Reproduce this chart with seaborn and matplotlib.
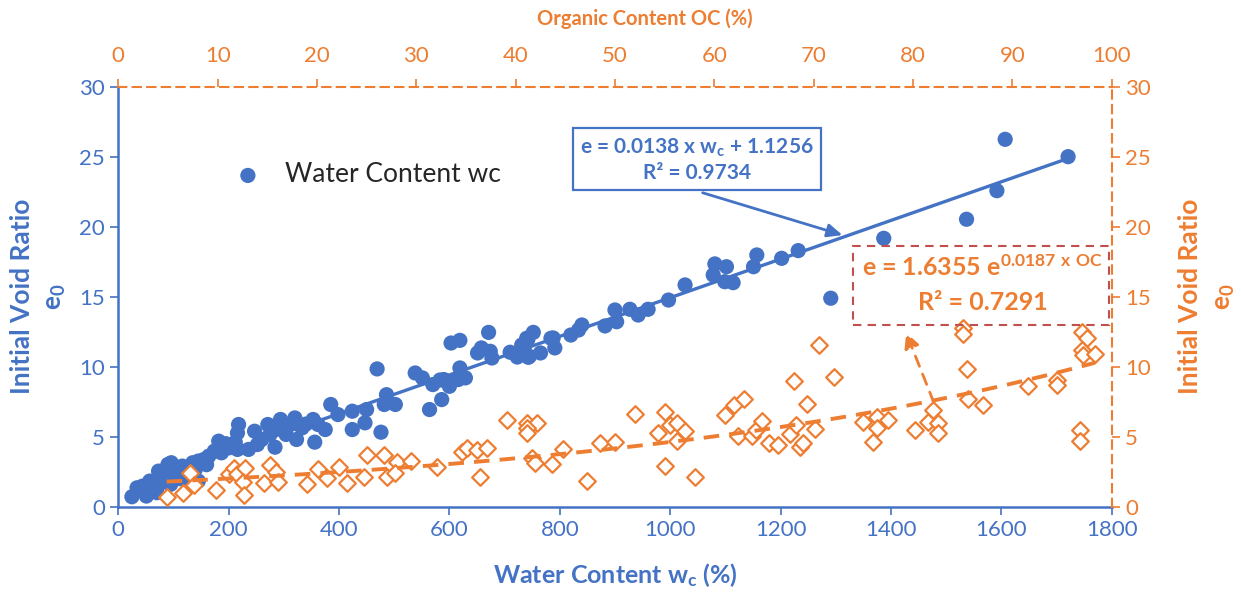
import numpy as np
import pandas as pd
import seaborn as sns
import matplotlib.pyplot as plt
from matplotlib.patches import Rectangle

blue = "#4472C4"
orange = "#ED7D31"
red = "#C0504D"

# water content (%) vs initial void ratio
wc_pct = [24.7, 34, 51, 44, 57, 70, 73, 83, 90, 96, 103, 116, 122, 135, 145, 145, 155, 164, 174, 182,
          187, 200, 212, 216, 218, 216, 236, 247, 252, 271, 275, 284, 294, 297, 304, 320, 323, 333, 353,
          356, 362, 375, 385, 398, 424, 424, 447, 450, 469, 476, 486, 482, 502, 538, 551, 564, 570, 586,
          590, 600, 603, 619, 619, 629, 616, 651, 658, 671, 677, 674, 710, 723, 736, 745, 752, 742, 765,
          788, 791,
          60, 78, 88, 108, 128, 140, 65, 95, 112, 160, 195, 260, 290, 310, 340, 583, 595,
          731, 740, 743, 784, 820, 840, 834, 882, 900, 903, 927, 942, 960, 997, 1027, 1078, 1081, 1102,
          1099, 1114, 1151, 1157, 1202, 1232, 1291, 1387, 1537, 1592, 1607, 1721]
e0_wc = [0.71, 1.35, 0.76, 1.47, 1.83, 1.0, 2.54, 1.95, 3.02, 3.14, 2.3, 2.9, 1.95, 3.14, 1.83, 3.26, 3.37,
         3.61, 3.97, 4.68, 3.85, 4.2, 4.6, 5.27, 5.87, 4.09, 4.09, 5.39, 4.44, 5.87, 5.16, 4.25, 6.23, 5.51,
         5.16, 6.34, 4.8, 5.63, 6.23, 4.61, 5.87, 5.51, 7.3, 6.58, 6.82, 5.51, 5.99, 6.94, 9.84, 5.32, 8.0,
         7.3, 7.3, 9.55, 9.2, 6.94, 8.72, 7.65, 9.08, 8.6, 11.69, 11.88, 9.91, 9.2, 9.08, 10.98, 11.34,
         12.45, 10.62, 11.1, 11.03, 10.69, 11.45, 10.74, 12.45, 11.93, 10.98, 12.05, 11.34,
         1.5, 1.7, 2.4, 2.6, 2.5, 2.7, 1.15, 1.6, 2.0, 3.0, 4.5, 4.8, 5.7, 5.9, 5.9, 9.05, 8.93,
         11.55, 12.03, 10.67, 12.03, 12.26, 12.98, 12.62, 12.91, 14.05, 13.21, 14.1, 13.69, 14.1, 14.76,
         15.84, 16.55, 17.34, 17.14, 16.07, 16.0, 17.14, 17.98, 17.74, 18.29, 14.89, 19.17, 20.53, 22.57,
         26.24, 25.0]

# organic content (%) vs initial void ratio
oc_pct = [4.87, 6.48, 7.22, 7.62, 9.84, 11.14, 11.65, 11.98, 12.76, 12.52, 12.68, 14.70, 15.27, 15.88,
          16.11, 18.97, 20.07, 21.04, 22.25, 23.05, 25.07, 24.73, 26.78, 27.02, 28.03, 27.86, 29.44, 32.05,
          34.57, 35.07, 36.08, 37.09, 36.41, 39.10, 41.11, 42.12, 41.11, 41.11, 41.62, 41.95, 43.63, 44.74,
          47.15, 48.49, 50.0, 52.02, 55.04, 54.36, 55.54, 56.21, 57.05, 56.27, 55.04, 58.06, 61.08, 61.98,
          63.02, 62.42, 63.77, 64.2, 64.77, 65.54, 66.44, 67.62, 68.22, 68.63, 68.9, 69.3, 68.05, 70.14,
          70.57, 72.05, 74.94, 76.0, 76.35, 76.35, 77.52, 80.2, 81.54, 81.98, 82.55, 82.55, 85.0, 85.0,
          85.41, 85.57, 87.08, 91.61, 94.47, 94.47, 96.99, 97.49, 96.99, 97.09, 98.33, 96.84, 96.84]
e0_oc = [0.67, 1.0, 2.43, 1.55, 1.19, 2.34, 2.74, 2.34, 2.74, 1.79, 0.84, 1.67, 2.98, 2.5, 1.79, 1.62,
         2.67, 2.03, 2.81, 1.71, 3.69, 2.14, 3.69, 2.14, 3.21, 2.39, 3.29, 2.81, 3.93, 4.17, 4.05, 4.17,
         2.14, 6.19, 5.96, 6.0, 5.6, 5.24, 3.46, 3.14, 3.05, 4.1, 1.86, 4.53, 4.64, 6.62, 6.79, 5.24, 5.84,
         5.96, 5.43, 4.71, 2.93, 2.14, 6.55, 7.26, 7.67, 5.05, 5.05, 5.48, 6.14, 4.53, 4.41, 5.19, 5.84,
         4.29, 4.53, 7.34, 9.0, 5.53, 11.53, 9.24, 6.07, 4.64, 6.43, 5.6, 6.19, 5.48, 6.07, 6.91, 5.96,
         5.29, 12.74, 12.34, 9.81, 7.67, 7.26, 8.62, 9.05, 8.69, 12.5, 12.03, 11.19, 10.84, 10.91, 5.48,
         4.71]

# trendline coefficients shown on the chart
lin_slope, lin_icpt, lin_r2 = 0.0138, 1.1256, 0.9734
exp_a, exp_b, exp_r2 = 1.6355, 0.0187, 0.7291

wc_df = pd.DataFrame({"wc": wc_pct, "e0": e0_wc})
oc_df = pd.DataFrame({"oc": oc_pct, "e0": e0_oc})

sns.set_style("white")
plt.rcParams["font.family"] = ["Lato", "DejaVu Sans"]
plt.rcParams["mathtext.fontset"] = "custom"
plt.rcParams["mathtext.rm"] = "Lato"
plt.rcParams["mathtext.bf"] = "Lato:bold"
plt.rcParams["mathtext.default"] = "bf"

fig = plt.figure(figsize=(12.41, 5.92), dpi=100)
ax = fig.add_axes([0.0953, 0.1441, 0.8005, 0.7095])

# blue series + linear trend
sns.scatterplot(data=wc_df, x="wc", y="e0", ax=ax, color=blue, s=120, edgecolor="none",
                label="Water Content wc", zorder=3)
xl = np.array([min(wc_pct), max(wc_pct)])
ax.plot(xl, lin_slope * xl + lin_icpt, color=blue, lw=2.4, zorder=2)

ax.set_xlim(0, 1800)
ax.set_ylim(0, 30)
ax.set_xticks(range(0, 1801, 200))
ax.set_yticks(range(0, 31, 5))
ax.set_xlabel(r"Water Content w$_c$ (%)", color=blue, fontsize=18, fontweight="bold", labelpad=15)
ax.set_ylabel("Initial Void Ratio\n" + r"e$_0$", color=blue, fontsize=19, fontweight="bold",
              labelpad=8, linespacing=1.4)
ax.tick_params(colors=blue, labelsize=16, length=6, width=1.2, direction="out", left=True, bottom=True)
for side in ["top", "right"]:
    ax.spines[side].set_visible(False)
for side in ["left", "bottom"]:
    ax.spines[side].set_color(blue)
    ax.spines[side].set_linewidth(1.8)

leg = ax.legend(loc="center left", bbox_to_anchor=(0.08, 0.79), frameon=False, fontsize=19,
                handletextpad=0.4, markerscale=1.0)

# orange series on secondary axes (top x, right y)
ax2 = fig.add_axes(ax.get_position(), frameon=True)
ax2.patch.set_alpha(0)
sns.scatterplot(data=oc_df, x="oc", y="e0", ax=ax2, marker="D", s=72, facecolor="white",
                edgecolor=orange, linewidth=1.6, zorder=3)
xo = np.linspace(min(oc_pct), max(oc_pct), 100)
ax2.plot(xo, exp_a * np.exp(exp_b * xo), color=orange, lw=2.8, ls=(0, (4, 2.6)), zorder=4)
ax2.set_xlim(0, 100)
ax2.set_ylim(0, 30)
ax2.set_xticks(range(0, 101, 10))
ax2.set_yticks(range(0, 31, 5))
ax2.xaxis.tick_top()
ax2.xaxis.set_label_position("top")
ax2.yaxis.tick_right()
ax2.yaxis.set_label_position("right")
ax2.set_xlabel("Organic Content OC (%)", color=orange, fontsize=14.5, fontweight="bold")
ax2.xaxis.set_label_coords(0.53, 1.148)
ax2.set_ylabel("Initial Void Ratio\n" + r"e$_0$", color=orange, fontsize=19, fontweight="bold",
               labelpad=20, linespacing=1.4, rotation=90)
ax2.tick_params(colors=orange, labelsize=16, length=6, width=1.2, direction="out", top=True, right=True)
ax2.tick_params(axis="x", pad=9)
for side in ["left", "bottom"]:
    ax2.spines[side].set_visible(False)
for side in ["top", "right"]:
    ax2.spines[side].set_color(orange)
    ax2.spines[side].set_linestyle((0, (4, 3)))
    ax2.spines[side].set_linewidth(1.5)

# blue equation box + arrow
ax.text(1048, 24.76, f"e = {lin_slope} x w$_c$ + {lin_icpt}\nR² = {lin_r2}", color=blue,
        fontsize=15, fontweight="bold", ha="center", va="center", linespacing=1.25, zorder=6,
        bbox=dict(boxstyle="square,pad=0.35", fc="white", ec=blue, lw=1.6))
ax.annotate("", xy=(1317, 19.34), xytext=(1054, 22.48), zorder=6,
            arrowprops=dict(arrowstyle="-|>,head_length=0.9,head_width=0.4", color=blue, lw=2))

# orange equation box + dashed arrow
ax2.add_patch(Rectangle((74.0, 12.95), 25.7, 5.7, fill=False, ec=red, lw=1.5, ls=(0, (4, 3)),
                        zorder=5, clip_on=False))
ax2.text(87.0, 17.1, f"e = {exp_a} e" + r"$^{" + f"{exp_b}" + r"\ x\ OC}$", color=orange,
         fontsize=18, fontweight="bold", ha="center", va="center", zorder=6)
ax2.text(87.0, 14.55, f"R² = {exp_r2}", color=orange, fontsize=18, fontweight="bold",
         ha="center", va="center", zorder=6)
ax2.annotate("", xy=(79.2, 12.62), xytext=(82.2, 7.26), zorder=6,
             arrowprops=dict(arrowstyle="-|>,head_length=0.9,head_width=0.45", color=orange, lw=2,
                             ls=(0, (4, 3))))

fig.savefig("out.png", dpi=100)
